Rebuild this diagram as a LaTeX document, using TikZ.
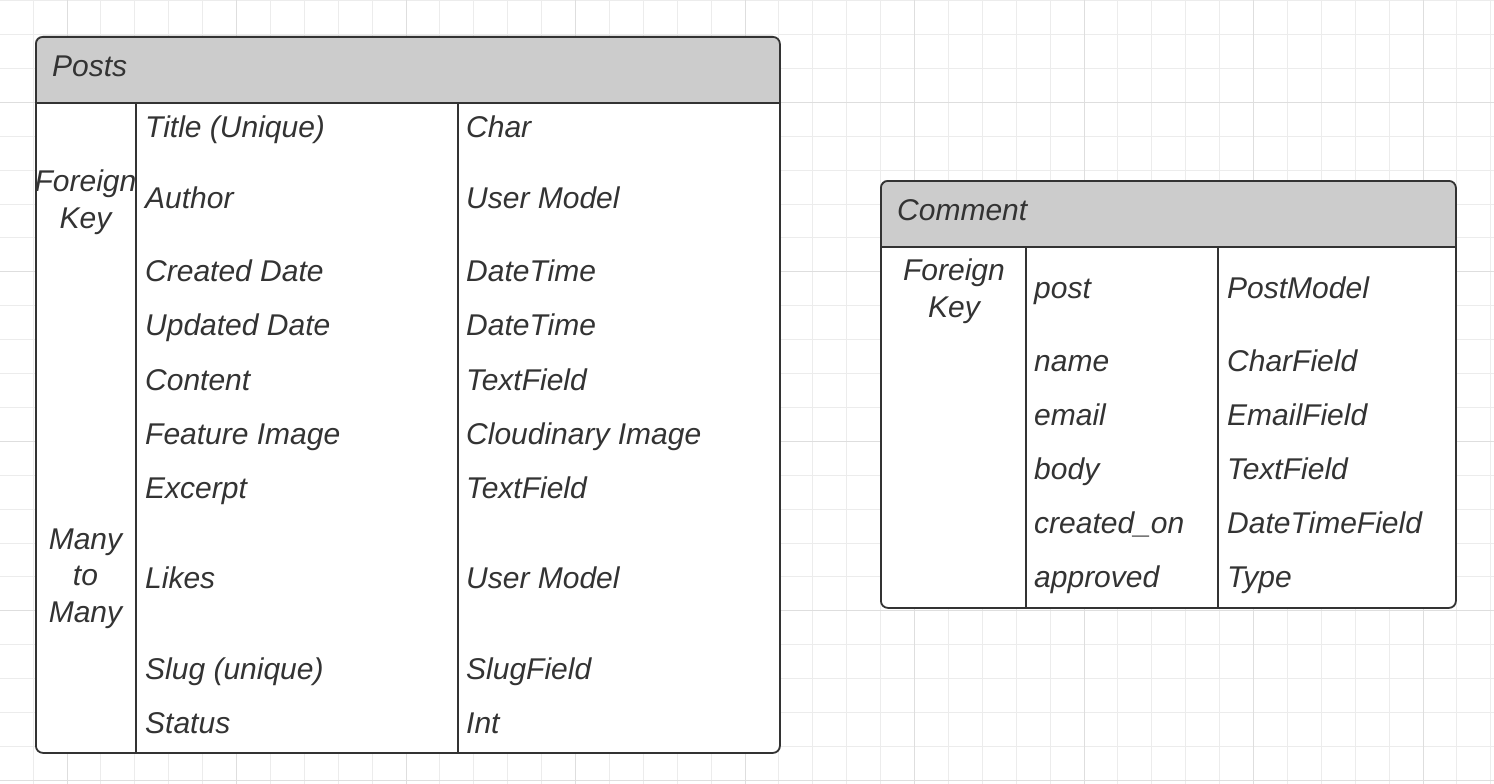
\documentclass[tikz,border=0pt]{standalone}
\usepackage{fontspec}
\setmainfont{Liberation Sans}
\usetikzlibrary{positioning}
\definecolor{InkColor}{HTML}{333333}
\definecolor{HeadColor}{HTML}{CCCCCC}
\definecolor{GridColor}{HTML}{ECECEC}
\definecolor{GridMajorColor}{HTML}{DEDEDE}

\begin{document}
\begin{tikzpicture}[x=1pt, y=-1pt, font=\fontsize{30}{36.5}\selectfont\itshape,
  gridline/.style={GridColor, line width=1pt},
  gridmajor/.style={GridMajorColor, line width=1pt},
  tablebox/.style={draw=InkColor, line width=1.8pt, rounded corners=7, inner sep=0, anchor=north west},
  headbar/.style={fill=HeadColor, rounded corners=7},
  rule/.style={draw=InkColor, line width=1.8pt},
  cell/.style={text=InkColor, inner sep=0, anchor=base west},
  keycell/.style={text=InkColor, inner sep=0, anchor=base, align=center}]
      \useasboundingbox (0,0) rectangle (1494,784);
      \fill[white] (0,0) rectangle (1494,784);
      \foreach \k in {0,...,44} \draw[gridline] ({-0.8+33.9*\k},0) -- ({-0.8+33.9*\k},784);
      \foreach \k in {0,...,23} \draw[gridline] (0,{0.6+33.9*\k}) -- (1494,{0.6+33.9*\k});
      \foreach \k in {2,7,...,42} \draw[gridmajor] ({-0.8+33.9*\k},0) -- ({-0.8+33.9*\k},784);
      \foreach \k in {3,8,...,23} \draw[gridmajor] (0,{0.6+33.9*\k}) -- (1494,{0.6+33.9*\k});

      \fill[white, rounded corners=7] (35,36) rectangle (779,752);
      \fill[headbar] (35,36) rectangle (779,103);
      \fill[HeadColor] (35,80) rectangle (779,103);
      \node[tablebox, minimum width=744, minimum height=716] (posts) at (35,36) {};
      \node[cell] (poststitle) at (52,77) {Posts};
      \draw[rule] (35,103) -- (779,103);
      \draw[rule] (136,103) -- (136,752);
      \draw[rule] (458,103) -- (458,752);
      \foreach \y/\fname/\ftype [count=\i] in {137/Title (Unique)/Char, 208/Author/User Model,
          281/Created Date/DateTime, 335/Updated Date/DateTime, 390/Content/TextField,
          444/Feature Image/Cloudinary Image, 498/Excerpt/TextField, 588/Likes/User Model,
          679/Slug (unique)/SlugField, 733/Status/Int} {
        \node[cell] (postsfield\i) at (145,\y) {\fname};
        \node[cell] (poststype\i) at (466,\y) {\ftype};
      }
      \node[keycell] (postsfk) at (85.5,228) {Foreign\\Key};
      \node[keycell] (postsm2m) at (85.5,622) {Many\\to\\Many};

      \fill[white, rounded corners=7] (880,180) rectangle (1455,607);
      \fill[headbar] (880,180) rectangle (1455,247);
      \fill[HeadColor] (880,224) rectangle (1455,247);
      \node[tablebox, minimum width=575, minimum height=427] (comment) at (880,180) {};
      \node[cell] (commenttitle) at (897,220) {Comment};
      \draw[rule] (880,247) -- (1455,247);
      \draw[rule] (1026,247) -- (1026,607);
      \draw[rule] (1218,247) -- (1218,607);
      \foreach \y/\fname/\ftype [count=\i] in {298/post/PostModel, 371/name/CharField,
          425/email/EmailField, 479/body/TextField, 533/created\_on/DateTimeField,
          587/approved/Type} {
        \node[cell] (commentfield\i) at (1034,\y) {\fname};
        \node[cell] (commenttype\i) at (1227,\y) {\ftype};
      }
      \node[keycell] (commentfk) at (954,317) {Foreign\\Key};
    \end{tikzpicture}
\end{document}
